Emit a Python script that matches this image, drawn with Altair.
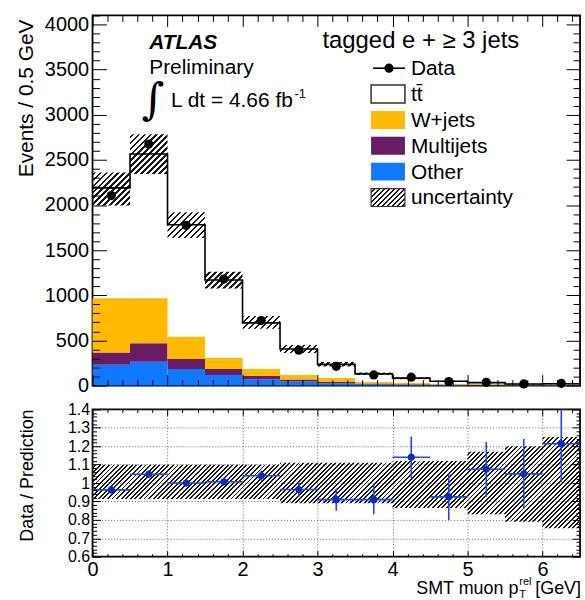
import altair as alt
import pandas as pd
import numpy as np

# ---------------- data ----------------
bin_lo = [0.0, 0.5, 1.0, 1.5, 2.0, 2.5, 3.0, 3.5, 4.0, 4.5, 5.0, 5.5, 6.0]
bin_hi = [0.5, 1.0, 1.5, 2.0, 2.5, 3.0, 3.5, 4.0, 4.5, 5.0, 5.5, 6.0, 6.5]
bin_center = [0.25, 0.75, 1.25, 1.75, 2.25, 2.75, 3.25, 3.75, 4.25, 4.75, 5.25, 5.75, 6.25]

data_counts = [2105, 2675, 1775, 1180, 720, 392, 213, 118, 93, 45, 36, 18, 25]
mc_total = [2190, 2565, 1782, 1170, 695, 405, 235, 130, 82, 48, 33, 17, 20]
other = [231, 264, 184, 118, 66, 44, 25, 15, 10, 6, 4, 2, 2]
multijets = [136, 206, 110, 66, 44, 22, 15, 7, 5, 3, 2, 1, 1]
wjets = [599, 496, 246, 121, 74, 52, 43, 18, 14, 9, 12, 4, 2]
unc_lo = [1995, 2345, 1635, 1075, 630, 362, 210, 116, 71, 42, 27, 13, 15]
unc_hi = [2360, 2785, 1920, 1260, 770, 450, 262, 145, 92, 54, 39, 21, 25]

ratio = [0.963, 1.048, 1.0, 1.007, 1.04, 0.965, 0.91, 0.91, 1.14, 0.925, 1.075, 1.05, 1.214]
ratio_err = [0.02, 0.02, 0.02, 0.022, 0.028, 0.04, 0.06, 0.08, 0.113, 0.127, 0.15, 0.19, 0.21]
ratio_unc_lo = [0.913, 0.913, 0.913, 0.913, 0.913, 0.89, 0.89, 0.89, 0.865, 0.865, 0.83, 0.79, 0.755]
ratio_unc_hi = [1.10, 1.10, 1.10, 1.10, 1.10, 1.11, 1.11, 1.11, 1.12, 1.12, 1.17, 1.20, 1.25]

components = ["Other", "Multijets", "W+jets"]
comp_colors = ["#0F78FF", "#6A1B66", "#FFBA00"]
legend_labels = ["Data", "t\u0074\u0304", "W+jets", "Multijets", "Other", "uncertainty"]

# ---------------- layout constants ----------------
W = 490
H1 = 372
H2 = 148
X_MAX = 6.5
Y1_MAX = 4100
FONT = "Liberation Sans"

xs = alt.Scale(domain=[0, X_MAX], nice=False, zero=False)
ys1 = alt.Scale(domain=[0, Y1_MAX], nice=False)
ys2 = alt.Scale(domain=[0.6, 1.4], nice=False, zero=False)


def hatch(wpx, hpx, period, dark_frac, color="#1a1a1a"):
    r = hpx / wpx
    a = (1 + r) / (1 + r * r)
    step = period / (wpx + hpx)
    clear = "rgba(255,255,255,0)"
    stops = []
    t = 0.0
    while t < 1.0:
        t1 = min(t + step * (1 - dark_frac), 1.0)
        t2 = min(t + step, 1.0)
        stops += [
            alt.GradientStop(color=clear, offset=round(t, 6)),
            alt.GradientStop(color=clear, offset=round(t1, 6)),
            alt.GradientStop(color=color, offset=round(t1, 6)),
            alt.GradientStop(color=color, offset=round(t2, 6)),
        ]
        t += step
    return alt.LinearGradient(gradient="linear", stops=stops, x1=0, y1=0, x2=a, y2=a * r)


def tick_axis(orient, offset, values, size):
    return alt.Axis(orient=orient, offset=offset, values=list(values), tickSize=size,
                    labels=False, domain=False, grid=False, title=None, ticks=True,
                    tickColor="black", tickWidth=1, zindex=1)


def minor(start, stop, step, major_step):
    vals = np.round(np.arange(start, stop + 1e-9, step), 4)
    return [float(v) for v in vals if abs(v / major_step - round(v / major_step)) > 1e-6]


x_major = [0, 1, 2, 3, 4, 5, 6]
x_minor = minor(0, 6.5, 0.2, 1)
y1_major = list(range(0, 4001, 500))
y1_minor = minor(0, 4100, 100, 500)
y2_major = [0.6, 0.7, 0.8, 0.9, 1.0, 1.1, 1.2, 1.3, 1.4]
y2_minor = minor(0.6, 1.4, 0.02, 0.1)

# ---------------- top panel ----------------
rows = []
for i in range(len(bin_lo)):
    base = 0
    for comp, vals in zip(components, [other, multijets, wjets]):
        rows.append({"x0": bin_lo[i], "x1": bin_hi[i], "y0": base, "y1": base + vals[i], "comp": comp})
        base += vals[i]
stack_df = pd.DataFrame(rows)

edges = bin_lo + [bin_hi[-1]]
band_df = pd.DataFrame({"x": edges, "lo": unc_lo + [unc_lo[-1]], "hi": unc_hi + [unc_hi[-1]]})
line_df = pd.DataFrame({"x": edges, "y": mc_total + [mc_total[-1]]})
pts_df = pd.DataFrame({"x": bin_center, "y": data_counts})

top_band_h = (max(unc_hi) - min(unc_lo)) / Y1_MAX * H1

stack = alt.Chart(stack_df).mark_rect().encode(
    x=alt.X("x0:Q", scale=xs, axis=tick_axis("top", -H1, x_major, 11)),
    x2="x1:Q",
    y=alt.Y("y0:Q", scale=ys1, axis=alt.Axis(orient="left", values=y1_major, format="d", ticks=False,
                                              tickSize=0, domain=False, grid=False, title=None,
                                              labelFontSize=20, labelPadding=4, labelFlush=False,
                                              labelOverlap=False, labelColor="black")),
    y2="y1:Q",
    color=alt.Color("comp:N", scale=alt.Scale(domain=components, range=comp_colors), legend=None),
)

band = alt.Chart(band_df).mark_area(interpolate="step-after", fill=hatch(W, top_band_h, 6.0, 0.4)).encode(
    x=alt.X("x:Q", scale=xs, axis=tick_axis("bottom", -H1, x_major, 11)),
    y=alt.Y("lo:Q", scale=ys1, axis=tick_axis("right", -W, y1_major, 14)),
    y2="hi:Q",
)

tt_line = alt.Chart(line_df).mark_line(interpolate="step-after", color="black", strokeWidth=1.6).encode(
    x=alt.X("x:Q", scale=xs, axis=tick_axis("top", -H1, x_minor, 6)),
    y=alt.Y("y:Q", scale=ys1, axis=tick_axis("right", -W, y1_minor, 7)),
)

pts = alt.Chart(pts_df).mark_point(filled=True, size=85, color="black", opacity=1).encode(
    x=alt.X("x:Q", scale=xs, axis=tick_axis("bottom", -H1, x_minor, 6)),
    y=alt.Y("y:Q", scale=ys1, axis=tick_axis("left", -W, y1_major, 14)),
)

ghost = alt.Chart(pts_df).mark_point(opacity=0).encode(
    x=alt.X("x:Q", scale=xs, axis=None),
    y=alt.Y("y:Q", scale=ys1, axis=tick_axis("left", -W, y1_minor, 7)),
)

one = pd.DataFrame({"a": [0]})


def txt(text, x, y, size=21, align="left", baseline="alphabetic", font=FONT, **kw):
    return alt.Chart(one).mark_text(text=text, align=align, baseline=baseline, fontSize=size,
                                    font=font, color="black", **kw).encode(
        x=alt.value(x), y=alt.value(y))


top_texts = [
    txt("Events / 0.5 GeV", -60, 4, size=21, align="right", angle=270),
    txt("ATLAS", 57, 34, size=21, fontWeight="bold", fontStyle="italic"),
    txt("Preliminary", 57, 59, size=21),
    txt("\u222b", 61, 86, size=44, align="center", baseline="middle", font="DejaVu Serif"),
    txt("L dt = 4.66 fb", 79, 92, size=21),
    txt("-1", 203, 83, size=13),
    txt("tagged e + \u2265 3 jets", 330, 33, size=24, align="center"),
]

# legend
leg_y = [53, 79, 105, 131, 157, 183]
bx0, bx1, bh = 280, 314, 9
legend_layers = [
    alt.Chart(one).mark_rule(color="black", strokeWidth=1.6).encode(
        x=alt.value(282), x2=alt.value(314), y=alt.value(leg_y[0])),
    alt.Chart(one).mark_point(filled=True, size=85, color="black", opacity=1).encode(
        x=alt.value(298), y=alt.value(leg_y[0])),
    alt.Chart(one).mark_rect(fill="white", stroke="#333333", strokeWidth=1.5).encode(
        x=alt.value(bx0), x2=alt.value(bx1), y=alt.value(leg_y[1] - bh), y2=alt.value(leg_y[1] + bh)),
]
for k, comp in enumerate(["W+jets", "Multijets", "Other"]):
    col = comp_colors[components.index(comp)]
    legend_layers.append(alt.Chart(one).mark_rect(fill=col).encode(
        x=alt.value(bx0), x2=alt.value(bx1), y=alt.value(leg_y[2 + k] - bh), y2=alt.value(leg_y[2 + k] + bh)))
legend_layers.append(alt.Chart(one).mark_rect(fill=hatch(bx1 - bx0, 2 * bh, 5.0, 0.45), stroke="#333333",
                                              strokeWidth=1.2).encode(
    x=alt.value(bx0), x2=alt.value(bx1), y=alt.value(leg_y[5] - bh), y2=alt.value(leg_y[5] + bh)))
for lab, yy in zip(legend_labels, leg_y):
    legend_layers.append(txt(lab, 320, yy + 1, size=21, baseline="middle"))

top = alt.layer(stack, band, tt_line, pts, ghost, *top_texts, *legend_layers).resolve_axis(
    x="independent", y="independent").properties(width=W, height=H1)

# ---------------- ratio panel ----------------
rdf = pd.DataFrame({"x": bin_center, "lo": bin_lo, "hi": bin_hi, "r": ratio,
                    "elo": [r - e for r, e in zip(ratio, ratio_err)],
                    "ehi": [r + e for r, e in zip(ratio, ratio_err)]})
rband_df = pd.DataFrame({"x": edges, "lo": ratio_unc_lo + [ratio_unc_lo[-1]],
                         "hi": ratio_unc_hi + [ratio_unc_hi[-1]]})
r_band_h = (max(ratio_unc_hi) - min(ratio_unc_lo)) / 0.8 * H2

BLUE_L = "#1f45f2"
BLUE_P = "#0a28d0"

rband = alt.Chart(rband_df).mark_area(interpolate="step-after", fill=hatch(W, r_band_h, 4.6, 0.42)).encode(
    x=alt.X("x:Q", scale=xs, axis=alt.Axis(orient="bottom", values=x_major, format="d", ticks=False, tickSize=0,
                                           domain=False, grid=True, gridDash=[1, 2], gridColor="#666666",
                                           gridWidth=1, title=None, labelFontSize=20, labelPadding=3,
                                           labelFlush=False, labelOverlap=False, labelColor="black")),
    y=alt.Y("lo:Q", scale=ys2, axis=alt.Axis(orient="left", values=y2_major, format=".2~g", ticks=False,
                                             tickSize=0, domain=False, grid=True, gridDash=[1, 2],
                                             gridColor="#666666", gridWidth=1, title=None, labelFontSize=16,
                                             labelPadding=3, labelFlush=False, labelOverlap=False,
                                             labelColor="black")),
    y2="hi:Q",
)

rvert = alt.Chart(rdf).mark_rule(color=BLUE_L, strokeWidth=1.6, clip=True).encode(
    x=alt.X("x:Q", scale=xs, axis=tick_axis("top", -H2, x_minor, 3)),
    y=alt.Y("elo:Q", scale=ys2, axis=tick_axis("right", -W, y2_minor, 4)),
    y2="ehi:Q",
)
rhor = alt.Chart(rdf).mark_rule(color=BLUE_L, strokeWidth=1.6, clip=True).encode(
    x=alt.X("lo:Q", scale=xs, axis=tick_axis("bottom", -H2, x_major, 6)),
    x2="hi:Q",
    y=alt.Y("r:Q", scale=ys2, axis=tick_axis("left", -W, y2_major, 8)),
)
rpts = alt.Chart(rdf).mark_point(filled=True, size=50, color=BLUE_P, opacity=1).encode(
    x=alt.X("x:Q", scale=xs, axis=tick_axis("top", -H2, x_major, 6)),
    y=alt.Y("r:Q", scale=ys2, axis=tick_axis("right", -W, y2_major, 8)),
)
rghost = alt.Chart(rdf).mark_point(opacity=0).encode(
    x=alt.X("x:Q", scale=xs, axis=tick_axis("bottom", -H2, x_minor, 3)),
    y=alt.Y("r:Q", scale=ys2, axis=tick_axis("left", -W, y2_minor, 4)),
)

r_texts = [
    txt("Data / Prediction", -60, 0, size=18, align="right", angle=270),
    txt("SMT muon p", 428, 186, size=18, align="right"),
    txt("rel", 429, 176, size=11),
    txt("T", 429, 190, size=11),
    txt("[GeV]", 491, 186, size=18, align="right"),
]

bottom = alt.layer(rband, rvert, rhor, rpts, rghost, *r_texts).resolve_axis(
    x="independent", y="independent").properties(width=W, height=H2)

chart = alt.vconcat(top, bottom, spacing=24, bounds="flush").properties(
    padding={"left": 15, "top": 12, "right": 0, "bottom": 0}
).configure_view(stroke="black", strokeWidth=1.8).configure_axis(labelFont=FONT)

chart.save("out.html", embed_options={"renderer": "svg", "actions": False})
